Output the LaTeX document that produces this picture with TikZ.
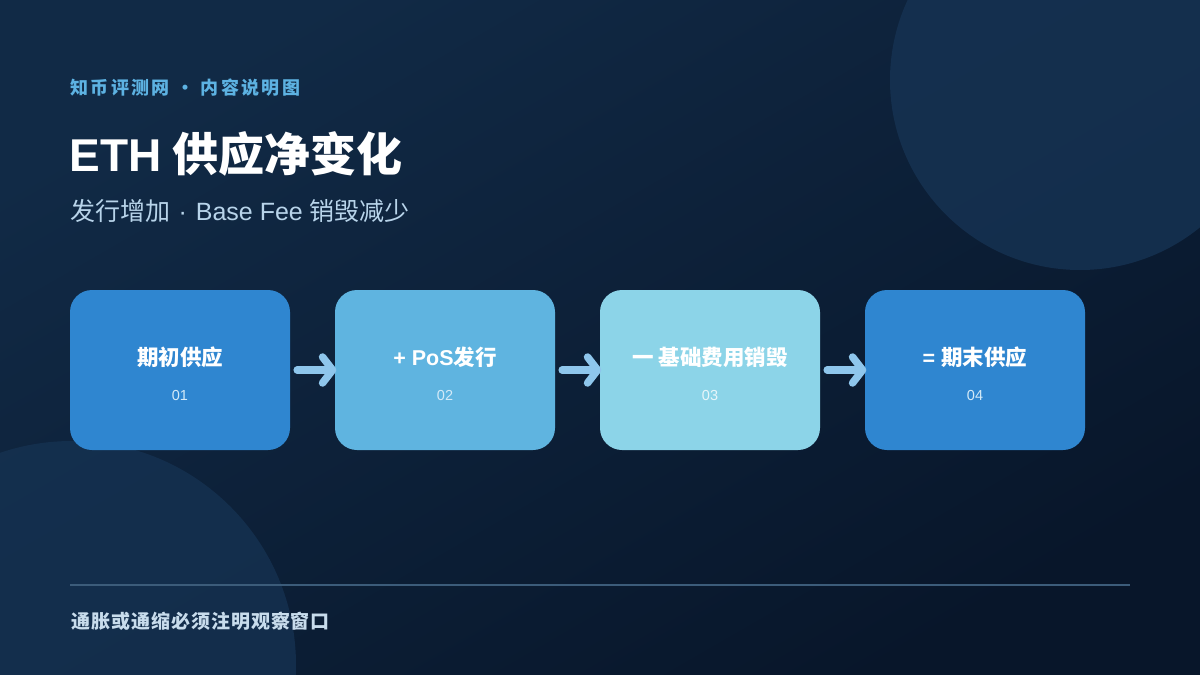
\documentclass[tikz,border=0pt]{standalone}
\usepackage{fontspec}
\setmainfont{Noto Sans CJK SC}
\newfontfamily\latinf{Liberation Sans}
\usetikzlibrary{arrows.meta}
\definecolor{bgA}{HTML}{112A46}
\definecolor{bgB}{HTML}{08162A}
\definecolor{circ}{HTML}{163353}
\definecolor{boxdark}{HTML}{2F86D0}
\definecolor{boxmid}{HTML}{5FB4E0}
\definecolor{boxlight}{HTML}{8CD4E8}
\definecolor{arrowc}{HTML}{8EC6EC}
\definecolor{kicker}{HTML}{5DB2E2}
\definecolor{subc}{HTML}{B8D4EA}
\definecolor{rulec}{HTML}{3C5C7A}
\definecolor{footc}{HTML}{C8DCEC}
\definecolor{numc}{HTML}{D4EAF8}
\tikzset{
  stepbox/.style={rounded corners=22pt, minimum width=220pt, minimum height=160pt, inner sep=0pt},
  boxtitle/.style={text=white, font=\fontsize{21.5}{24}\selectfont\bfseries, anchor=center},
  boxnum/.style={text=numc, font=\fontsize{14.5}{16}\selectfont\latinf, anchor=center},
  flowarrow/.style={draw=arrowc, line width=7.5pt, line cap=round,
    -{Straight Barb[length=10pt, width=26pt, line cap=round, line join=round]}},
}
\begin{document}
\begin{tikzpicture}[x=1pt,y=-1pt]
\useasboundingbox (0,0) rectangle (1200,675);
\shade[shading=axis, top color=bgA, bottom color=bgB, shading angle=30] (0,0) rectangle (1200,675);
\begin{scope}
\clip (0,0) rectangle (1200,675);
\fill[circ, opacity=0.8] (1080,80) circle[radius=190];
\fill[circ, opacity=0.75] (72,665) circle[radius=224];
\end{scope}
% header
\node[anchor=west, text=kicker, font=\fontsize{18}{20}\selectfont\bfseries\addfontfeatures{LetterSpace=13}] (kick) at (67,88) {知币评测网 · 内容说明图};
\node[anchor=west, text=white, font=\fontsize{46}{50}\selectfont\bfseries] (title) at (66,154) {{\latinf\bfseries ETH\hspace{11pt}}供应净变化};
\node[anchor=west, text=subc, font=\fontsize{25}{28}\selectfont] (sub) at (67,211) {发行增加{\latinf\hspace{8pt}·\hspace{9pt}Base Fee\hspace{7pt}}销毁减少};
% boxes
\node[stepbox, fill=boxdark] (b1) at (180,370) {};
\node[stepbox, fill=boxmid] (b2) at (445,370) {};
\node[stepbox, fill=boxlight] (b3) at (710,370) {};
\node[stepbox, fill=boxdark] (b4) at (975,370) {};
\node[boxtitle] (t1) at (180,357) {期初供应};
\node[boxtitle] (t2) at (445,357) {{\latinf\bfseries + PoS}发行};
\node[boxtitle] (t3) at (710,357) {一 基础费用销毁};
\node[boxtitle] (t4) at (975,357) {{\latinf\bfseries = }期末供应};
\node[boxnum] (n1) at (180,396) {01};
\node[boxnum] (n2) at (445,396) {02};
\node[boxnum, text=white!80!boxlight] (n3) at (710,396) {03};
\node[boxnum] (n4) at (975,396) {04};
% arrows
\draw[flowarrow] ([xshift=7pt]b1.east) -- ([xshift=1.5pt]b2.west);
\draw[flowarrow] ([xshift=7pt]b2.east) -- ([xshift=1.5pt]b3.west);
\draw[flowarrow] ([xshift=7pt]b3.east) -- ([xshift=1.5pt]b4.west);
% footer
\coordinate (r1) at (70,585);
\coordinate (r2) at (1130,585);
\draw[rulec, line width=1.5pt] (r1) -- (r2);
\node[anchor=west, text=footc, font=\fontsize{19}{22}\selectfont\bfseries\addfontfeatures{LetterSpace=5}] (foot) at (68,621) {通胀或通缩必须注明观察窗口};
\end{tikzpicture}
\end{document}
